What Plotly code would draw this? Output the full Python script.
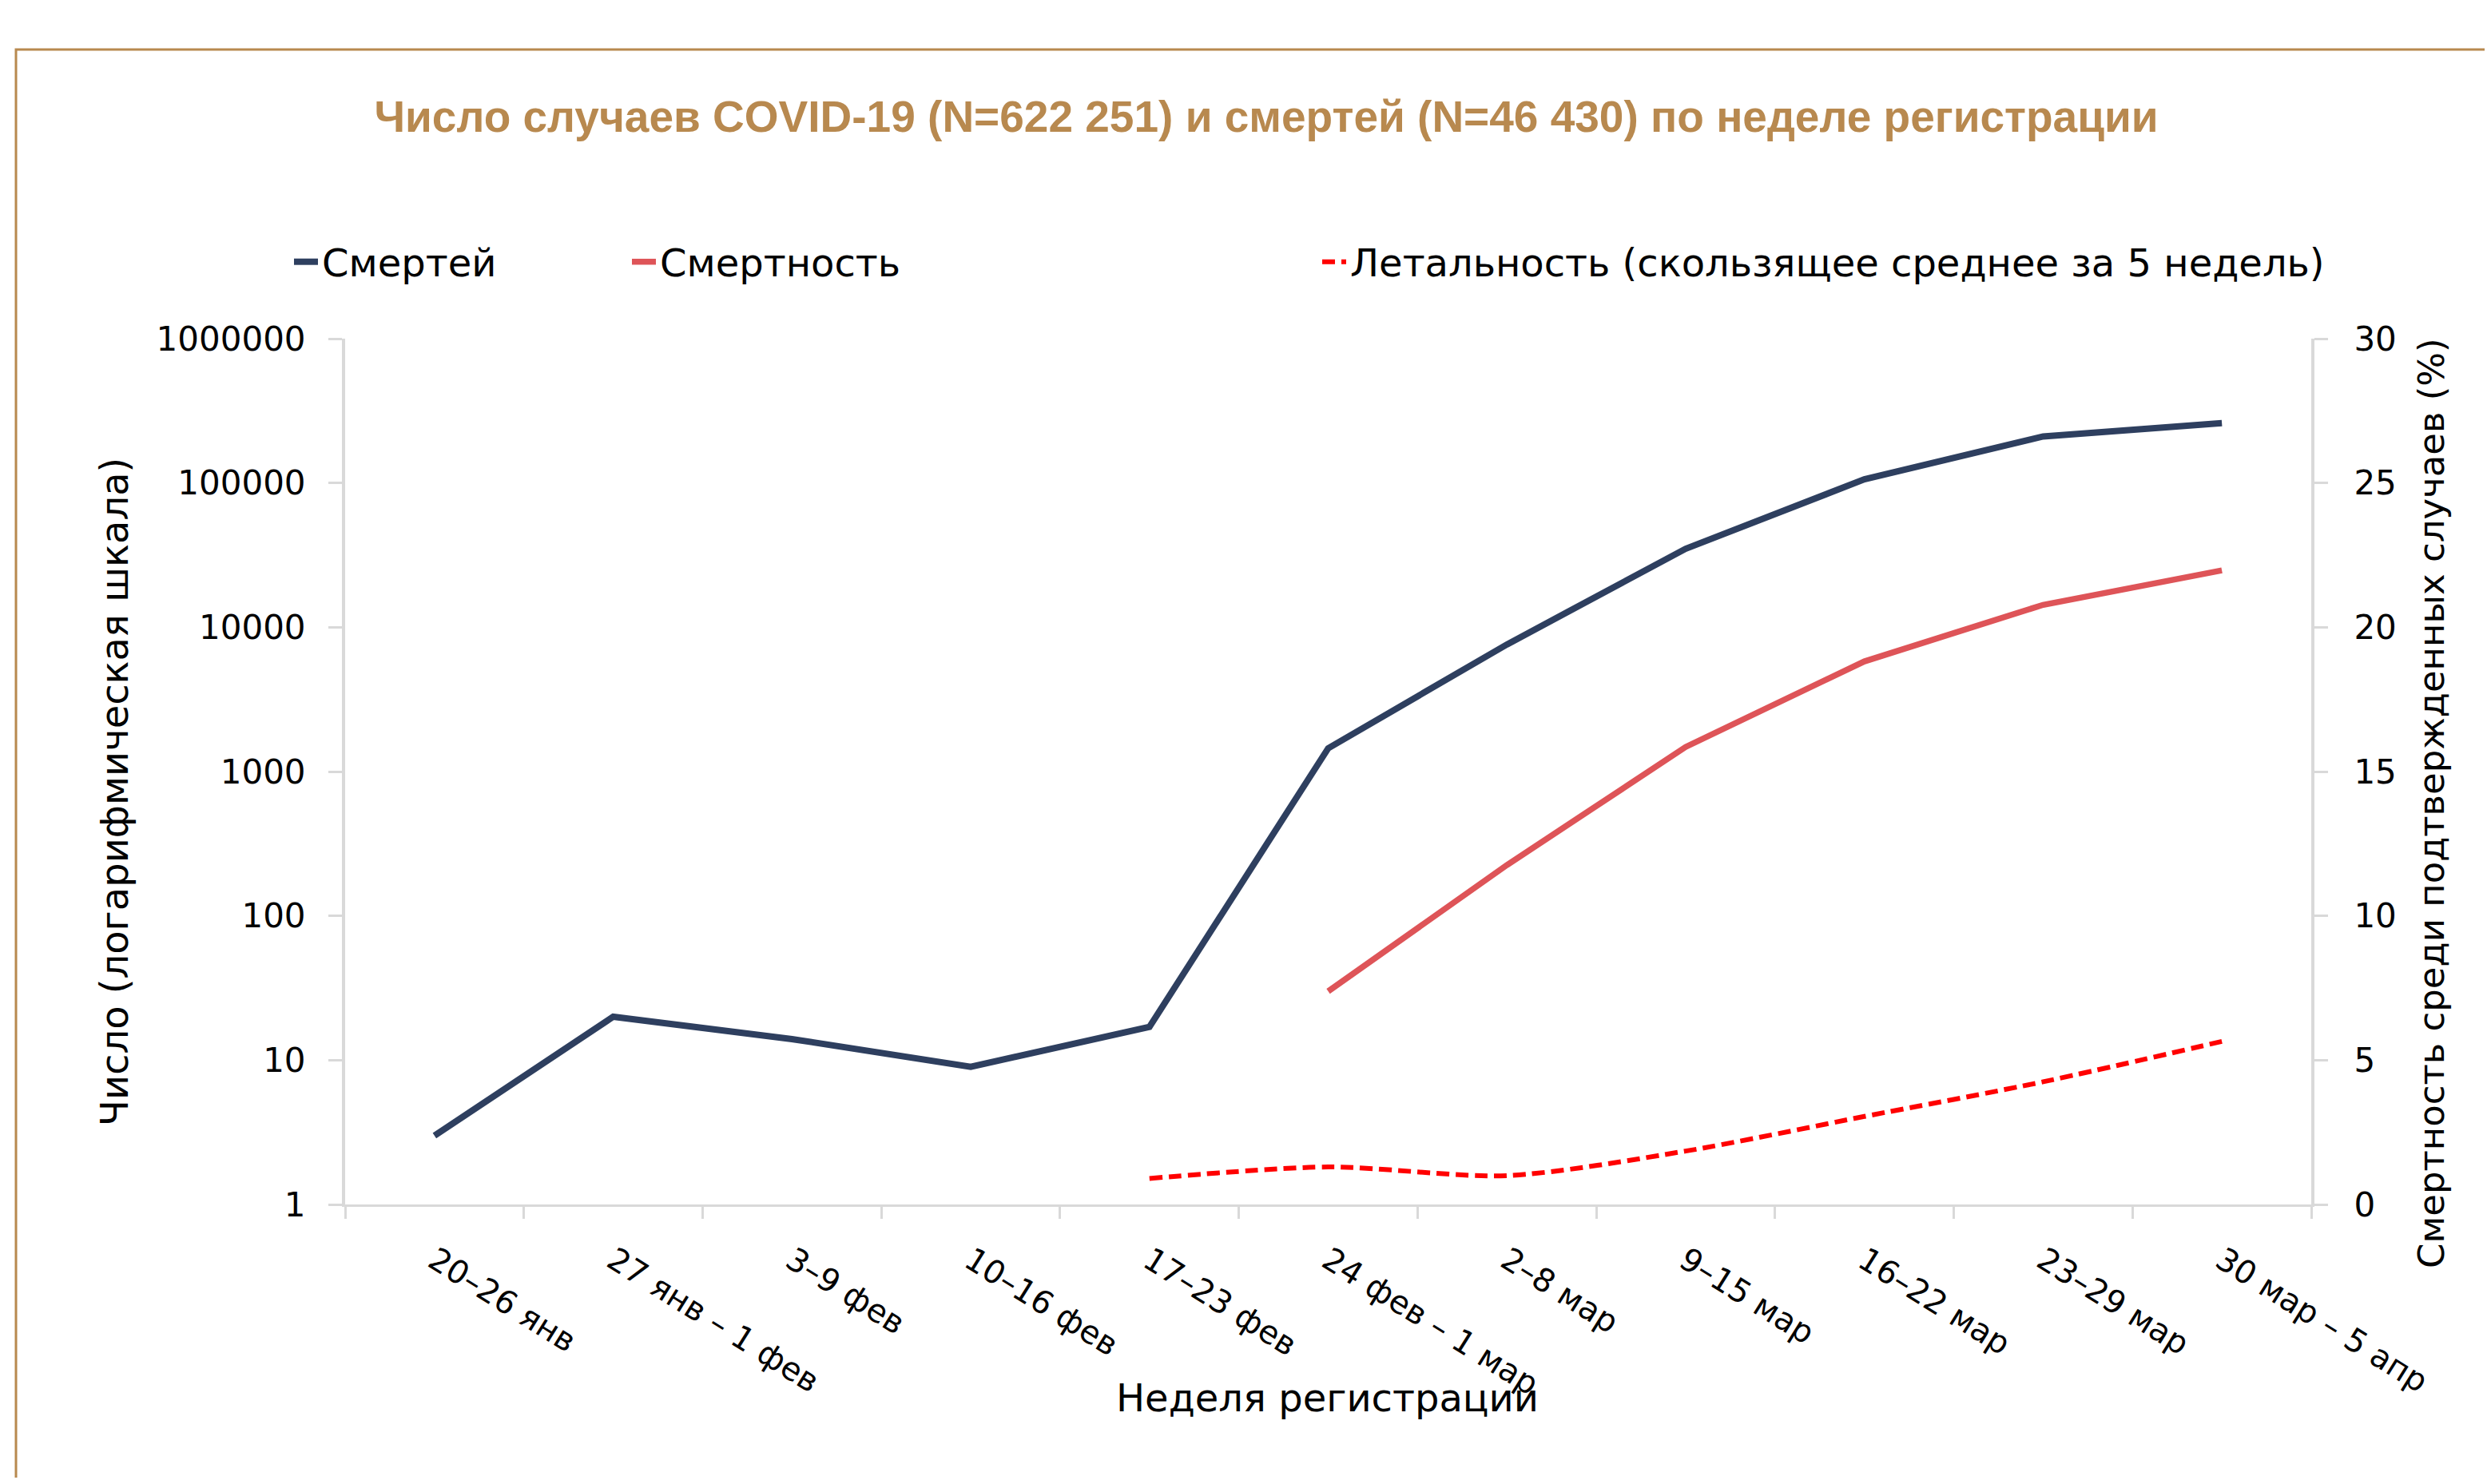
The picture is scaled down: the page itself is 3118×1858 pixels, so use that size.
import plotly.graph_objects as go

weeks = ["20–26 янв", "27 янв – 1 фев", "3–9 фев", "10–16 фев", "17–23 фев",
         "24 фев – 1 мар", "2–8 мар", "9–15 мар", "16–22 мар", "23–29 мар",
         "30 мар – 5 апр"]
deaths_count = [3, 20, 14, 9, 17, 1450, 7600, 35000, 106000, 210000, 260000]
mortality = [None, None, None, None, None, 30, 225, 1480, 5800, 14300, 24800]
lethality_ma5 = [None, None, None, None, 0.9, 1.3, 1.0, 1.85, 3.05, 4.25, 5.65]

left_tickvals = [1, 10, 100, 1000, 10000, 100000, 1000000]
left_ticktext = ["1", "10", "100", "1000", "10000", "100000", "1000000"]
right_tickvals = [0, 5, 10, 15, 20, 25, 30]

OFF = 8  # default body margin of the page
W, H = 3118 - 2 * OFF, 1858 - 2 * OFF
ML, MT = 432 - OFF, 424 - OFF
MR = W - (2893 - OFF)
MB = H - (1508 - OFF)
PW, PH = W - ML - MR, H - MT - MB

TICKFONT = dict(family="DejaVu Sans", size=42, color="#000000")
AXISCOL = "#D9D9D9"
TITLECOL = "#B8894F"


def px_x(p):
    return (p - OFF - ML) / PW


def px_y(p):
    return (H - MB - (p - OFF)) / PH


fig = go.Figure()
fig.add_trace(go.Scatter(x=weeks, y=deaths_count, name="Смертей", mode="lines",
                         line=dict(color="#2E3F5F", width=8), legend="legend"))
fig.add_trace(go.Scatter(x=weeks, y=mortality, name="Смертность", mode="lines",
                         line=dict(color="#DE5458", width=7.5), legend="legend"))
fig.add_trace(go.Scatter(x=weeks, y=lethality_ma5, name="Летальность (скользящее среднее за 5 недель)",
                         mode="lines", yaxis="y2",
                         line=dict(color="#FF0000", width=6, dash="16px,8px", shape="spline", smoothing=0.8),
                         legend="legend2"))

fig.update_layout(
    width=W, height=H,
    margin=dict(l=ML, r=MR, t=MT, b=MB, autoexpand=False),
    paper_bgcolor="white", plot_bgcolor="white",
    title=dict(text="<b>Число случаев COVID-19 (N=622 251) и смертей (N=46 430) по неделе регистрации</b>",
               font=dict(family="Liberation Sans", size=55, color=TITLECOL),
               x=px_x(1585), xref="paper", xanchor="center",
               y=1 - (146 - OFF) / H, yref="container", yanchor="middle"),
    xaxis=dict(type="category", range=[-0.5, len(weeks) - 0.5], showgrid=False, showline=True,
               linecolor=AXISCOL, linewidth=3,
               ticks="outside", tickson="boundaries", ticklen=15, tickwidth=3, tickcolor=AXISCOL,
               tickangle=32, tickfont=dict(family="DejaVu Sans", size=40, color="#000000"),
               ticklabelstandoff=28, automargin=False),
    yaxis=dict(type="log", range=[0, 6], showgrid=False, showline=True, linecolor=AXISCOL, linewidth=4,
               ticks="outside", ticklen=17, tickwidth=3, tickcolor=AXISCOL,
               tickvals=left_tickvals, ticktext=left_ticktext, tickfont=TICKFONT,
               ticklabelstandoff=20, automargin=False, zeroline=False),
    yaxis2=dict(overlaying="y", side="right", range=[0, 30], showgrid=False, showline=True,
                linecolor=AXISCOL, linewidth=4, ticks="outside", ticklen=17, tickwidth=3,
                tickcolor=AXISCOL, tickvals=right_tickvals, tickfont=TICKFONT,
                ticklabelstandoff=24, automargin=False, zeroline=False),
    legend=dict(orientation="h", x=px_x(363), xanchor="left", y=px_y(328), yanchor="middle",
                font=dict(family="DejaVu Sans", size=48, color="#000000"),
                entrywidth=378, entrywidthmode="pixels", bgcolor="rgba(0,0,0,0)",
                itemwidth=30, tracegroupgap=0),
    legend2=dict(orientation="h", x=px_x(1650), xanchor="left", y=px_y(328), yanchor="middle",
                 font=dict(family="DejaVu Sans", size=48, color="#000000"),
                 bgcolor="rgba(0,0,0,0)", itemwidth=30),
    annotations=[
        dict(text="Число (логарифмическая шкала)", xref="paper", yref="paper",
             x=px_x(143), y=px_y(992), xanchor="center", yanchor="middle", textangle=-90,
             showarrow=False, font=dict(family="DejaVu Sans", size=48, color="#000000")),
        dict(text="Смертность среди подтвержденных случаев (%)", xref="paper", yref="paper",
             x=px_x(3043), y=px_y(1005), xanchor="center", yanchor="middle", textangle=-90,
             showarrow=False, font=dict(family="DejaVu Sans", size=45, color="#000000")),
        dict(text="Неделя регистрации", xref="paper", yref="paper",
             x=px_x(1661), y=px_y(1750), xanchor="center", yanchor="middle",
             showarrow=False, font=dict(family="DejaVu Sans", size=48, color="#000000")),
    ],
    shapes=[dict(type="rect", xref="paper", yref="paper",
                 x0=px_x(20), x1=px_x(3118 + 50), y0=px_y(1858 + 50), y1=px_y(62),
                 line=dict(color=TITLECOL, width=3), fillcolor="rgba(0,0,0,0)", layer="below")],
)

fig.write_html("out.html")
